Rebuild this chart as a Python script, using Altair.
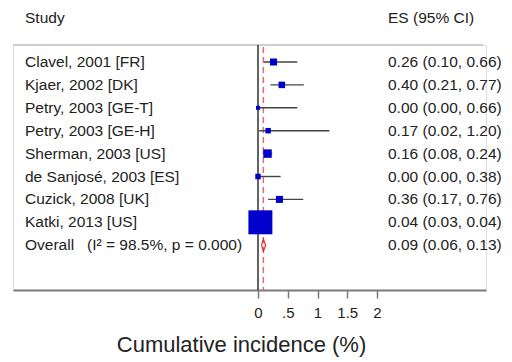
import altair as alt
import pandas as pd

studies = ["Clavel, 2001 [FR]", "Kjaer, 2002 [DK]", "Petry, 2003 [GE-T]", "Petry, 2003 [GE-H]",
           "Sherman, 2003 [US]", "de Sanjosé, 2003 [ES]", "Cuzick, 2008 [UK]", "Katki, 2013 [US]"]
es = [0.26, 0.40, 0.00, 0.17, 0.16, 0.00, 0.36, 0.04]
lo = [0.10, 0.21, 0.00, 0.02, 0.08, 0.00, 0.17, 0.03]
hi = [0.66, 0.77, 0.66, 1.20, 0.24, 0.38, 0.76, 0.04]
weights = [5.7, 4.9, 1.9, 3.5, 8.3, 3.5, 5.7, 66.5]

overall_label = "Overall\u00a0\u00a0\u00a0(I² = 98.5%, p = 0.000)"
overall_es, overall_lo, overall_hi = 0.09, 0.06, 0.13

tick_values = [0, 0.5, 1, 1.5, 2]
tick_labels = ["0", ".5", "1", "1.5", "2"]
x_title = "Cumulative incidence (%)"
header_left = "Study"
header_right = "ES (95% CI)"

FONT = "Liberation Sans"
TXT = "#222222"

rows = pd.DataFrame({
    "study": studies, "es": es, "lo": lo, "hi": hi, "w": weights,
    "row": list(range(len(studies))),
})
rows["label"] = [f"{e:.2f} ({l:.2f}, {h:.2f})" for e, l, h in zip(es, lo, hi)]

n = len(studies)
overall_row = n
ov = pd.DataFrame({"study": [overall_label], "row": [overall_row],
                   "label": [f"{overall_es:.2f} ({overall_lo:.2f}, {overall_hi:.2f})"]})
dh = 0.26
diamond = pd.DataFrame({
    "x": [overall_lo, overall_es, overall_hi, overall_es, overall_lo],
    "y": [overall_row, overall_row - dh, overall_row, overall_row + dh, overall_row],
    "o": [0, 1, 2, 3, 4],
})

label_expr = " : ".join(
    [f"datum.value == {v} ? '{t}'" for v, t in zip(tick_values, tick_labels)] + ["datum.label"]
)

xscale = alt.Scale(domain=[-4.118, 3.832], nice=False, zero=False)
yscale = alt.Scale(domain=[-0.742, 9.956], nice=False, zero=False, reverse=True)

xaxis = alt.Axis(values=tick_values, labelExpr=label_expr, grid=False,
                 domainColor="#7a7a7a", domainWidth=2, tickColor="#7a7a7a", tickWidth=1.5,
                 tickSize=8, labelFontSize=15, labelFont=FONT, labelColor=TXT, labelPadding=7,
                 title=x_title, titleFont=FONT, titleFontSize=22, titleFontWeight="normal",
                 titleColor=TXT, titleX=228, titleY=61, titleBaseline="alphabetic",
                 titleAlign="center", labelFlush=False, labelOverlap=False)

base = alt.Chart(rows)

ci = base.mark_rule(color="#444444", strokeWidth=1.4).encode(
    x=alt.X("lo:Q", scale=xscale, axis=xaxis),
    x2="hi:Q",
    y=alt.Y("row:Q", scale=yscale, axis=None),
)

squares = base.mark_square(color="#0000cc", opacity=1).encode(
    x=alt.X("es:Q", scale=xscale),
    y=alt.Y("row:Q", scale=yscale),
    size=alt.Size("w:Q", scale=alt.Scale(domain=[0, 100], range=[0, 864]), legend=None),
)

study_txt = alt.Chart(pd.concat([rows[["study", "row"]], ov[["study", "row"]]])).mark_text(
    align="left", baseline="middle", font=FONT, fontSize=15.5, color=TXT
).encode(x=alt.value(12), y=alt.Y("row:Q", scale=yscale), text="study:N")

es_txt = alt.Chart(pd.concat([rows[["label", "row"]], ov[["label", "row"]]])).mark_text(
    align="left", baseline="middle", font=FONT, fontSize=15.5, color=TXT
).encode(x=alt.value(375), y=alt.Y("row:Q", scale=yscale), text="label:N")

headers = alt.Chart(pd.DataFrame({"t": [header_left, header_right], "px": [12, 375]})).mark_text(
    align="left", baseline="middle", font=FONT, fontSize=15.5, color=TXT
).encode(x=alt.X("px:Q", scale=None), y=alt.value(-27), text="t:N")

top_line = alt.Chart(pd.DataFrame({"a": [0]})).mark_rule(color="#cfcfcf", strokeWidth=2).encode(
    x=alt.value(0), x2=alt.value(470), y=alt.value(0)
)

zero_line = alt.Chart(pd.DataFrame({"z": [0]})).mark_rule(color="#111111", strokeWidth=1.3).encode(
    x=alt.X("z:Q", scale=xscale), y=alt.value(0), y2=alt.value(245)
)

ref_line = alt.Chart(pd.DataFrame({"z": [overall_es]})).mark_rule(
    color="#e86a6a", strokeWidth=1.5, strokeDash=[6, 4]
).encode(x=alt.X("z:Q", scale=xscale), y=alt.value(2), y2=alt.value(245))

diamond_mark = alt.Chart(diamond).mark_line(color="#e03030", strokeWidth=1.2).encode(
    x=alt.X("x:Q", scale=xscale), y=alt.Y("y:Q", scale=yscale), order="o:Q"
)

chart = alt.layer(
    top_line, ref_line, zero_line, ci, squares, diamond_mark, study_txt, es_txt, headers
).properties(
    width=473, height=245,
    autosize=alt.AutoSizeParams(type="none"),
    padding={"left": 13, "top": 45, "right": 26, "bottom": 72},
).configure_view(stroke=None).configure(background="white")

chart.save("out.html", embed_options={"renderer": "svg", "actions": False})
